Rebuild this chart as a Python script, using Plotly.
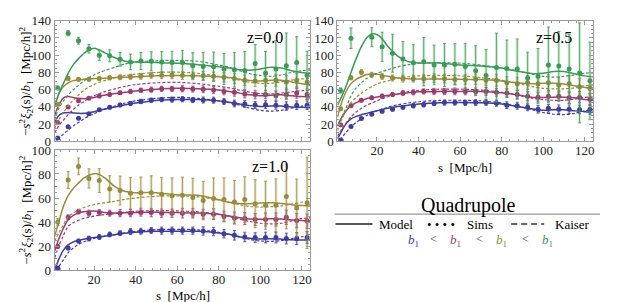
import plotly.graph_objects as go

# ---------------- data ----------------
s_sims = [2.5, 7.5, 12.5, 17.5, 22.5, 27.5, 32.5, 37.5, 42.5, 47.5, 52.5, 57.5, 62.5,
          67.5, 72.5, 77.5, 82.5, 87.5, 92.5, 97.5, 102.5, 107.5, 112.5, 117.5, 122.5]
s_curve = [1, 3, 5, 7.5, 10, 12.5, 15, 17.5, 20, 22.5, 25, 30, 35, 40, 50, 60, 70, 80,
           85, 90, 95, 100, 105, 110, 115, 120, 124]

# z = 0.0
z0_sims = {
    "blue": [4, 17, 26.7, 32, 36.7, 39.6, 42.2, 44, 46.3, 47.8, 48.5, 48.5, 49, 48, 48, 47.8, 46.3, 44, 43.3, 42.2, 42.6, 41.8, 41, 42, 42],
    "magenta": [22, 40, 47, 50, 52.6, 54.4, 56.3, 58, 59.3, 60, 61, 61, 61, 60.7, 60.4, 59.6, 58, 57, 55, 54.4, 54.4, 53, 54.4, 56, 54.4],
    "gold": [43, 73, 72, 72, 73, 73.7, 74.4, 75, 75.5, 76.7, 76.7, 76.7, 76.3, 76, 76, 75.5, 74.4, 73, 71, 70, 71, 71, 69, 71, 69],
    "green": [62, 125.5, 116.7, 107.4, 100, 99.3, 95.2, 92.2, 93.3, 93, 92.2, 91.5, 91.5, 87.8, 87, 86.7, 84, 83, 82.2, 90.4, 79.3, 84, 87.8, 91.5, 76.7],
}
z0_err = {
    "blue": [1, 1, 1.5, 1.5, 1.5, 2, 2, 2, 2.5, 2.5, 2.5, 3, 3, 3, 3.5, 3.5, 3.5, 4, 4, 4, 4.5, 4.5, 5, 5, 5],
    "magenta": [1, 1.5, 1.5, 1.5, 2, 2, 2, 2.5, 2.5, 3, 3, 3, 3.5, 3.5, 4, 4, 4, 4.5, 4.5, 5, 5, 5.5, 5.5, 6, 6],
    "gold": [1.5, 2, 2, 2, 2.5, 2.5, 3, 3, 3.5, 3.5, 4, 4, 4.5, 4.5, 5, 5, 5.5, 6, 6, 6.5, 7, 7, 7.5, 8, 8],
    "green": [2, 3, 4, 5, 6, 7, 8, 9, 10, 11, 12, 13, 14, 15, 16, 17, 18, 20, 22, 22, 25, 33, 38, 30, 28],
}
z0_model = {
    "blue": [22, 30, 33, 33.5, 33, 32.5, 32.5, 33, 34.5, 36, 37.5, 40, 42.5, 44.5, 47.5, 48.5, 48.5, 47, 45.5, 43.5, 41.5, 40.5, 41, 41, 40, 39.5, 39],
    "magenta": [30, 42, 50, 52, 51, 50, 49.5, 50, 51, 52.5, 53.5, 55.5, 57, 58.5, 60.5, 61.5, 61, 59.5, 58, 56, 54, 53, 53.5, 54, 53, 52, 51.5],
    "gold": [40, 55, 63, 68, 70.5, 71.5, 72, 72.5, 73, 73, 73.3, 74, 74.5, 75, 76, 76.5, 76, 75, 74, 72, 70.5, 70, 71, 71, 69, 67, 66],
    "green": [42, 55, 66, 79, 89, 96, 102, 106, 108, 106, 103, 97, 93, 92, 91.5, 90.5, 89, 86.5, 85, 83, 82.5, 84, 86, 85, 82, 80, 79],
}
z0_kaiser = {
    "blue": [-2, 4, 8, 13, 18, 22, 26, 29.5, 32, 35, 37, 41, 44.5, 47, 50, 51, 50, 47, 45, 42, 38.5, 36, 35, 36, 38.5, 41, 42],
    "magenta": [10, 18, 24, 31, 37, 42, 46, 50, 53, 55.5, 57.5, 61, 64, 66, 68, 68.5, 67, 64, 62, 59.5, 57, 55.5, 55, 56, 57.5, 59, 59.5],
    "gold": [15, 25, 33, 41, 48, 54, 59, 63, 66, 68.5, 70.5, 74, 76.5, 78, 80, 80.3, 79, 75.5, 73.5, 71, 68.5, 67.5, 67.5, 69, 71, 72.5, 73],
    "green": [25, 38, 46, 54, 60, 65, 70, 74, 77, 80, 82, 86, 90, 92, 93.5, 94, 93, 88.5, 86, 82, 78.5, 76.5, 75.5, 77, 80, 82, 83],
}

# z = 0.5
z05_sims = {
    "blue": [1.5, 17.4, 26.6, 31.4, 35.1, 37.3, 39.5, 41.4, 42.5, 44, 45, 45, 44.7, 45, 45, 44.3, 42, 41.4, 39.5, 37.3, 38.4, 37.3, 37.3, 37, 37],
    "magenta": [19.2, 41.4, 47.7, 50.6, 52.5, 54.3, 56.1, 56.9, 58, 58, 58, 58, 58, 58, 58, 57, 56, 54.3, 52.5, 51.3, 52.5, 52.5, 50.6, 51.3, 48.8],
    "gold": [38, 73.9, 80.2, 77.2, 75.4, 73.5, 72.8, 72.8, 72.8, 73.5, 72.8, 71.7, 71.7, 72, 71, 71, 68, 67, 68.3, 67, 68, 65.4, 67, 63.5, 61.7],
    "green": [59, 119.7, 150, 120.8, 109.7, 102.3, 95.7, 91.2, 92.4, 88.7, 88.7, 89.4, 86.8, 82, 76.5, 85.7, 84.6, 83.9, 73.5, 75.7, 88.7, 87.5, 83.9, 79.4, 70.2],
}
z05_err = {
    "blue": [1, 1.5, 1.5, 1.5, 2, 2, 2, 2.5, 2.5, 2.5, 3, 3, 3, 3.5, 3.5, 3.5, 4, 4, 4, 4.5, 4.5, 5, 5, 5, 5.5],
    "magenta": [1.5, 2, 2, 2, 2.5, 2.5, 3, 3, 3, 3.5, 3.5, 4, 4, 4, 4.5, 4.5, 5, 5, 5.5, 5.5, 6, 6, 6.5, 6.5, 7],
    "gold": [2, 2.5, 3, 3, 3.5, 3.5, 4, 4, 4.5, 5, 5, 5.5, 5.5, 6, 6.5, 7, 7, 7.5, 8, 8.5, 9, 9, 9.5, 10, 10],
    "green": [3, 12, 9, 11, 17, 22, 20, 21, 28, 23, 25, 24, 27, 29, 30, 40, 33, 35, 30, 32, 44, 40, 40, 58, 45],
}
z05_model = {
    "blue": [3, 12, 20, 26, 29, 31, 32.5, 34, 35.5, 37, 38.5, 40.5, 42, 43.3, 44.8, 45, 44.8, 43.5, 41.5, 39.5, 37.5, 36, 36.6, 36.6, 35.5, 34.5, 34],
    "magenta": [18, 28, 35, 41.5, 45, 47.5, 49.5, 50.5, 51.5, 52.5, 53.3, 55, 56.5, 57.5, 58, 58, 58, 56.5, 55, 53, 51, 50.8, 51.3, 51.3, 50.5, 48.5, 48],
    "gold": [28, 45, 57, 67, 72, 75, 77.5, 78.3, 78, 77, 75.5, 73.5, 72.8, 72.3, 72.5, 72, 71.7, 70, 68.5, 67.5, 67, 67.5, 67.5, 66.5, 64.5, 62.5, 62],
    "green": [42, 52, 63, 80, 96, 110, 120, 124.5, 124, 119, 111, 99, 92.5, 91, 91, 88.5, 87.5, 85, 82.5, 80.5, 78.5, 79, 81, 81, 78.5, 76, 75],
}
z05_kaiser = {
    "blue": [-3, 4, 10, 17, 22, 26, 30, 33, 35.5, 37.5, 39.5, 42.5, 44.5, 46, 47.5, 47.7, 47, 44.5, 42, 39.5, 36.5, 33.5, 31.5, 31, 32.5, 35.5, 37],
    "magenta": [6, 14, 21, 28.5, 34, 38.5, 42, 44.5, 47, 49.5, 51.5, 55, 57.5, 59.3, 60.6, 60.6, 59.5, 57, 55, 52.5, 50, 48.5, 47.7, 47.7, 49, 51, 51.5],
    "gold": [12, 25, 35, 45, 51, 56, 60, 63.5, 66.5, 68.5, 70, 73.3, 75, 76, 76.5, 76, 74, 71, 68.5, 66, 63.5, 61.5, 61, 61, 62, 64.5, 65.5],
    "green": [18, 28, 38, 53, 62, 68, 73, 76.5, 79, 81, 83, 86.5, 89, 90.5, 91.3, 90.8, 88.5, 85, 83, 80.5, 78, 75.5, 74.6, 75.5, 77, 79, 79.5],
}

# z = 1.0
z1_sims = {
    "blue": [1.8, 18.4, 24.2, 26.3, 27.6, 29.7, 30.8, 32.1, 32.4, 32.9, 32.9, 32.9, 32.9, 32.9, 32.6, 32.1, 30.3, 29, 27.6, 27.1, 27.1, 27.1, 26.3, 26.3, 27.1],
    "magenta": [19.7, 44, 48.7, 47.4, 47.9, 47.4, 47.4, 47.4, 47.9, 47.9, 47.4, 47.4, 47.4, 47.4, 46.6, 46.6, 44.7, 43.4, 42.9, 42.1, 42.1, 42.1, 44, 41.3, 40.8],
    "gold": [40, 75, 86.3, 76.3, 74.5, 67.6, 66.3, 64, 64.5, 64.5, 63.2, 61.8, 62.4, 60.5, 57.9, 59.7, 58.7, 56.6, 58.7, 55.3, 54, 54, 61.3, 51.8, 56],
}
z1_err = {
    "blue": [1, 1.5, 1.5, 2, 2, 2, 2, 2.5, 2.5, 2.5, 3, 3, 3, 3, 3.5, 3.5, 3.5, 4, 4, 4, 4.5, 4.5, 4.5, 5, 5],
    "magenta": [1.5, 2, 2, 2.5, 2.5, 2.5, 3, 3, 3, 3.5, 3.5, 3.5, 4, 4, 4, 4.5, 4.5, 5, 5, 5, 5.5, 5.5, 6, 6, 6],
    "gold": [3, 7, 7, 8, 10, 11, 12, 13, 13, 14, 14, 15, 15, 16, 16, 17, 18, 18, 19, 20, 20, 22, 27, 24, 38],
}
z1_model = {
    "blue": [0, 9, 16, 21, 23.5, 24.8, 25.8, 26.5, 27.2, 27.8, 28.3, 29.5, 30.8, 31.6, 32.4, 32.4, 32.3, 31, 29.8, 27.8, 26.5, 26, 26.2, 25.8, 25.2, 25, 25],
    "magenta": [16, 26, 34, 42, 45.5, 47.5, 48.5, 49, 49.2, 48.8, 48, 47.5, 47.7, 48, 48.2, 47.9, 47.5, 46.5, 45, 43.5, 42.5, 42.3, 42.8, 42.5, 41.8, 41.3, 41],
    "gold": [28, 40, 52, 62, 68, 72.5, 76.5, 79, 80.3, 79.5, 77, 69.5, 65.5, 64.5, 64.5, 62.5, 62.3, 58.5, 56.5, 55.5, 55.3, 55.8, 56, 55.5, 54.5, 53.8, 53.3],
}
z1_kaiser = {
    "blue": [-4, 3, 8, 14.5, 18.5, 21.5, 23.5, 25, 26.5, 27.5, 28.3, 29.5, 31, 32.3, 33.7, 34, 33.5, 31.5, 29.8, 27.5, 25.5, 24.3, 24, 24.5, 26.3, 27.8, 28.3],
    "magenta": [10, 20, 28, 36.5, 39.5, 41.5, 43, 44, 45, 45.7, 46.2, 47, 48.3, 49, 49.5, 49.3, 48.5, 46.5, 44.7, 42.5, 40.5, 39, 38.5, 39, 41, 43, 43.5],
    "gold": [24, 31, 37, 44.5, 47.5, 50, 52, 53.5, 54.5, 55.5, 56, 57.3, 59, 60, 61.5, 61.8, 61, 58.5, 56.5, 54.5, 53, 52.5, 52.8, 53.5, 55, 56.5, 57],
}

panel_labels = ["z=0.0", "z=0.5", "z=1.0"]
x_ticks = [20, 40, 60, 80, 100, 120]

colors = {"blue": "#3f3d99", "magenta": "#993d71", "gold": "#998b3d", "green": "#3d9956"}
light = {"blue": "rgba(63,61,153,0.22)", "magenta": "rgba(153,61,113,0.22)",
         "gold": "rgba(153,139,61,0.22)", "green": "rgba(61,153,86,0.22)"}

W, H = 628, 302
def X(px): return px / W
def Y(py): return 1 - py / H

FONT = "Liberation Serif"

fig = go.Figure()

panels = [
    ("x", "y", z0_sims, z0_err, z0_model, z0_kaiser),
    ("x2", "y2", z05_sims, z05_err, z05_model, z05_kaiser),
    ("x3", "y3", z1_sims, z1_err, z1_model, z1_kaiser),
]

for xa, ya, sims, err, model, kaiser in panels:
    for key in sims:
        c = colors[key]
        fig.add_trace(go.Scatter(x=s_curve, y=kaiser[key], mode="lines", xaxis=xa, yaxis=ya,
                                 line=dict(color=c, width=1.2, dash="3px,2px", shape="spline", smoothing=0.8),
                                 showlegend=False, hoverinfo="skip"))
        fig.add_trace(go.Scatter(x=s_curve, y=model[key], mode="lines", xaxis=xa, yaxis=ya,
                                 line=dict(color=c, width=1.5, shape="spline", smoothing=0.8),
                                 showlegend=False, hoverinfo="skip"))
        # light wide error bars
        fig.add_trace(go.Scatter(x=s_sims, y=sims[key], mode="markers", xaxis=xa, yaxis=ya,
                                 marker=dict(size=1, color="rgba(0,0,0,0)"),
                                 error_y=dict(type="data", array=err[key], visible=True,
                                              color=light[key], thickness=3, width=0),
                                 showlegend=False, hoverinfo="skip"))
        # points with thin error bars
        fig.add_trace(go.Scatter(x=s_sims, y=sims[key], mode="markers", xaxis=xa, yaxis=ya,
                                 marker=dict(size=5, color=c),
                                 error_y=dict(type="data", array=err[key], visible=True,
                                              color=c, thickness=0.8, width=1.5),
                                 showlegend=False))

frame = "#9a9a9a"
def xaxis_style(domain, show_labels):
    return dict(domain=domain, range=[1, 124], tickvals=x_ticks, showticklabels=show_labels,
                ticks="inside", ticklen=4, tickcolor=frame, showline=True, linecolor=frame,
                linewidth=1, mirror="allticks", showgrid=False, zeroline=False,
                ticklabelstandoff=-3,
                minor=dict(dtick=4, tick0=0, ticks="inside", ticklen=2, tickcolor=frame, showgrid=False),
                tickfont=dict(family=FONT, size=13, color="#222"))

def yaxis_style(domain, rng, anchor):
    return dict(domain=domain, range=rng, dtick=20, tick0=0, anchor=anchor,
                ticks="inside", ticklen=4, tickcolor=frame, showline=True, linecolor=frame,
                linewidth=1, mirror="allticks", showgrid=False, zeroline=False,
                minor=dict(dtick=5, ticks="inside", ticklen=2, tickcolor=frame, showgrid=False),
                tickfont=dict(family=FONT, size=13, color="#222"))

dx_left = [X(46.7), X(302.7)]
dx_right = [X(330), X(586)]
dy_top = [Y(133), Y(6)]
dy_bot = [Y(268.5), Y(142)]

fig.update_layout(
    width=W, height=H, margin=dict(l=0, r=0, t=0, b=0),
    paper_bgcolor="white", plot_bgcolor="white",
    font=dict(family=FONT, size=13, color="black"),
    xaxis=dict(**xaxis_style(dx_left, False), anchor="y"),
    yaxis=yaxis_style(dy_top, [0, 140], "x"),
    xaxis2=dict(**xaxis_style(dx_right, True), anchor="y2"),
    yaxis2=yaxis_style(dy_top, [0, 140], "x2"),
    xaxis3=dict(**xaxis_style(dx_left, True), anchor="y3"),
    yaxis3=yaxis_style(dy_bot, [0, 100], "x3"),
)

ytitle = "\u2212<i>s</i><sup>2</sup><i>\u03be</i><sub>2</sub>(s)/<i>b</i><sub>1</sub>  [Mpc/h]<sup>2</sup>"
ann = []
ann.append(dict(text=ytitle, x=X(18), y=Y(69.5), textangle=-90))
ann.append(dict(text=ytitle, x=X(18), y=Y(205), textangle=-90))
ann.append(dict(text="s  [Mpc/h]", x=X(175), y=Y(295)))
ann.append(dict(text="s  [Mpc/h]", x=X(458), y=Y(160)))
for txt, (px, py) in zip(panel_labels, [(257, 24), (547, 24), (262, 159)]):
    ann.append(dict(text=txt, x=X(px), y=Y(py), font=dict(family=FONT, size=16, color="black")))

ann.append(dict(text="Quadrupole", x=X(461), y=Y(200), font=dict(family=FONT, size=20, color="black")))
ann.append(dict(text="Model", x=X(388.5), y=Y(220)))
ann.append(dict(text="\u2022 \u2022 \u2022 \u2022", x=X(433.5), y=Y(220), font=dict(family=FONT, size=13, color="black")))
ann.append(dict(text="Sims", x=X(472.5), y=Y(220)))
ann.append(dict(text="Kaiser", x=X(565), y=Y(220)))
b1 = "<i>b</i><sub>1</sub>"
for key, px in zip(["blue", "magenta", "gold", "green"], [406, 448, 494, 540]):
    ann.append(dict(text=b1, x=X(px), y=Y(237), font=dict(family=FONT, size=13, color=colors[key])))
for px in [426, 472, 518]:
    ann.append(dict(text="<", x=X(px), y=Y(236), font=dict(family=FONT, size=12, color="#444")))

for a in ann:
    a.setdefault("font", dict(family=FONT, size=13, color="black"))
    a.update(xref="paper", yref="paper", showarrow=False, xanchor="center", yanchor="middle")
    fig.add_annotation(**a)

fig.add_shape(type="line", xref="paper", yref="paper", x0=X(327), x1=X(593), y0=Y(209.5), y1=Y(209.5),
              line=dict(color="#999", width=1.2))
fig.add_shape(type="line", xref="paper", yref="paper", x0=X(328), x1=X(365), y0=Y(220), y1=Y(220),
              line=dict(color="#222", width=1.5))
fig.add_shape(type="line", xref="paper", yref="paper", x0=X(504), x1=X(537), y0=Y(220), y1=Y(220),
              line=dict(color="#333", width=1.5, dash="6px,4px"))

fig.write_html("out.html")
